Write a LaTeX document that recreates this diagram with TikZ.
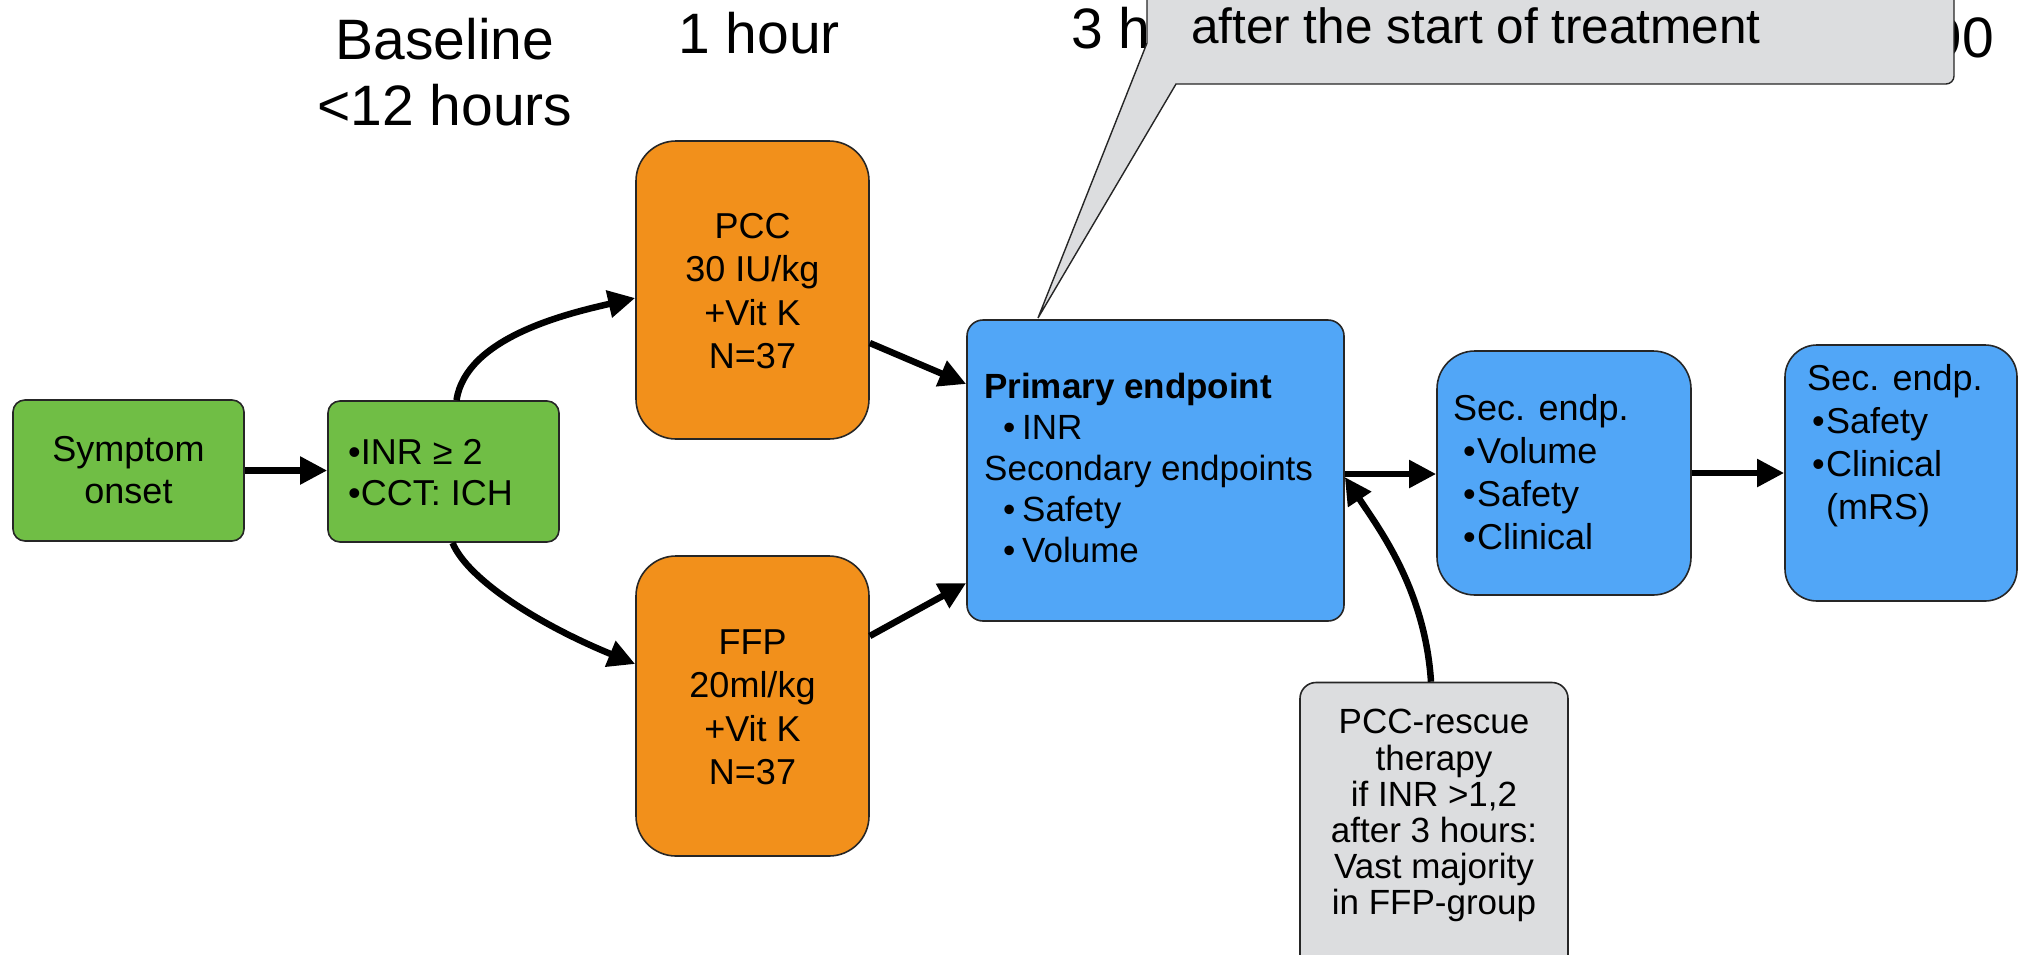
\documentclass[tikz,border=0pt]{standalone}
\usepackage{fontspec}
\setmainfont{Liberation Sans}
\usetikzlibrary{arrows.meta}
\definecolor{cgreen}{RGB}{112,190,69}
\definecolor{corange}{RGB}{242,144,27}
\definecolor{cblue}{RGB}{81,166,247}
\definecolor{cgray}{RGB}{220,221,223}
\newcommand\myfs[2]{\fontsize{#1}{#2}\selectfont}
\newcommand\mybul[1]{\makebox[#1][l]{•}}
\begin{document}
\begin{tikzpicture}[x=1pt,y=-1pt,
  box/.style={draw=black!85,line width=1.6pt,inner sep=0pt},
  tc/.style={anchor=north,align=center,inner sep=0pt},
  tlft/.style={anchor=north west,align=left,inner sep=0pt},
  arr/.style={line width=6.5pt,-{Triangle[length=27pt,width=26.5pt]}}]
\useasboundingbox (0,0) rectangle (2024,954);

% titles (drawn first, partly covered by the callout)
\node[tc,font=\myfs{57}{66}] (t0) at (445,12.8) {\strut Baseline\\<12 hours};
\node[anchor=base,inner sep=0pt,font=\myfs{57}{66}] (t1) at (759,53) {1 hour};
\node[anchor=base west,inner sep=0pt,font=\myfs{57}{66}] (t3) at (1071,48) {3 h};
\node[anchor=base east,inner sep=0pt,font=\myfs{57}{66}] (t90) at (1994,57) {90};

% boxes
\node[box,fill=cgreen,rounded corners=12pt,minimum width=231pt,minimum height=141pt] (sym) at (128.5,470.5) {};
\node[box,fill=cgreen,rounded corners=12pt,minimum width=231pt,minimum height=141pt] (inr) at (443.5,471.5) {};
\node[box,fill=corange,rounded corners=40pt,minimum width=233pt,minimum height=298pt] (pcc) at (752.5,290) {};
\node[box,fill=corange,rounded corners=40pt,minimum width=233pt,minimum height=300pt] (ffp) at (752.5,706) {};
\node[box,fill=cblue,rounded corners=16pt,minimum width=377pt,minimum height=301pt] (prim) at (1155.5,470.5) {};
\node[box,fill=cblue,rounded corners=38pt,minimum width=254pt,minimum height=244pt] (sec1) at (1564,473) {};
\node[box,fill=cblue,rounded corners=32pt,minimum width=232pt,minimum height=256pt] (sec2) at (1901,473) {};
\node[box,fill=cgray,rounded corners=16pt,minimum width=268pt,minimum height=309pt] (resc) at (1434,837) {};

% box texts
\node[tc,font=\myfs{36}{42}] (symt) at (128.5,431.6) {\strut Symptom\\onset};
\node[tlft,font=\myfs{36}{41}] (inrt) at (348,435.3) {\strut •INR ≥ 2\\•CCT: ICH};
\node[tc,font=\myfs{36}{43.5}] (pcct) at (752.5,207.55) {\strut PCC\\30 IU/kg\\+Vit K\\N=37};
\node[tc,font=\myfs{36}{43.5}] (ffpt) at (752.5,623.55) {\strut FFP\\20ml/kg\\+Vit K\\N=37};
\node[tlft,font=\myfs{35}{41}] (primt) at (984,369.3) {\strut\textbf{Primary endpoint}\\\hspace*{19pt}\mybul{19pt}INR\\Secondary endpoints\\\hspace*{19pt}\mybul{19pt}Safety\\\hspace*{19pt}\mybul{19pt}Volume};
\node[tlft,font=\myfs{36}{43}] (sec1t) at (1453,389.9) {\strut Sec. endp.\\\hspace*{10pt}\mybul{14pt}Volume\\\hspace*{10pt}\mybul{14pt}Safety\\\hspace*{10pt}\mybul{14pt}Clinical};
\node[tlft,font=\myfs{36}{43}] (sec2t) at (1807,359.9) {\strut Sec. endp.\\\hspace*{5pt}\mybul{14pt}Safety\\\hspace*{5pt}\mybul{14pt}Clinical\\\hspace*{19pt}(mRS)};
\node[tc,font=\myfs{35}{36}] (resct) at (1434,707.8) {\strut PCC-rescue\\therapy\\if INR >1,2\\after 3 hours:\\Vast majority\\in FFP-group};

% connectors
\draw[arr] (sym.east) -- (sym.east -| inr.west);
\draw[arr] ([xshift=13pt]inr.north) .. controls (466,338) and (565,314) .. ([yshift=-8pt]pcc.west);
\draw[arr] ([xshift=9pt]inr.south) .. controls (468,580) and (540,625) .. ([yshift=42pt]ffp.west);
\draw[arr] ([yshift=-53pt]pcc.east) -- ([yshift=86.5pt]prim.west);
\draw[arr] ([yshift=70pt]ffp.east) -- ([yshift=-112.5pt]prim.west);
\draw[arr] ([yshift=-3.5pt]prim.east) -- ([yshift=-1pt]sec1.west);
\draw[arr] (sec1.east) -- (sec1.east -| sec2.west);
\draw[arr] ([xshift=-3pt]resc.north) .. controls (1425,590) and (1380,530) .. ([yshift=-6.5pt]prim.east);

% callout
\filldraw[fill=cgray,draw=black!85,line width=1.4pt,line join=miter]
  (1147,-30) -- (1147,43) -- (1038,318) -- (1176,84) -- (1946,84)
  arc[start angle=90,end angle=0,radius=8] -- (1954,-30);
\node[anchor=base west,inner sep=0pt,font=\myfs{49.5}{58}] (cot) at (1191,43) {after the start of treatment};
\end{tikzpicture}
\end{document}
